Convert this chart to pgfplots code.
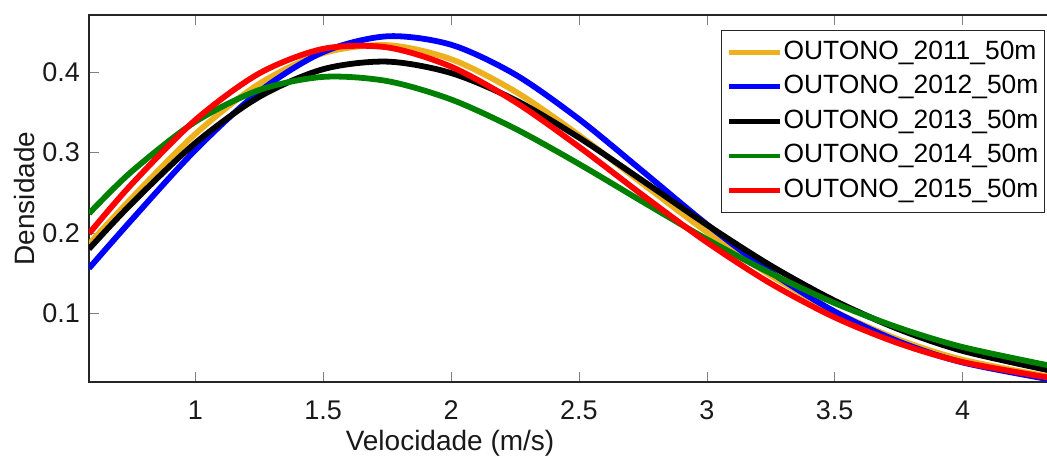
\documentclass[border=0pt]{standalone}
\usepackage{fontspec}
\setmainfont{Liberation Sans}
\usepackage{pgfplots}
\pgfplotsset{compat=1.18}
\definecolor{myyellow}{rgb}{0.929,0.694,0.125}
\definecolor{mygreen}{rgb}{0,0.5,0}
\definecolor{axgray}{rgb}{0.15,0.15,0.15}
\begin{document}
\begin{tikzpicture}
\useasboundingbox (0,0) rectangle (523.5pt,229.5pt);
\begin{axis}[
  at={(44.5pt,38.5pt)}, anchor=south west,
  scale only axis, width=481pt, height=183.5pt,
  xmin=0.584, xmax=4.346, ymin=0.0145, ymax=0.471,
  ytick pos=left,
  axis line style={axgray, line width=0.6pt},
  tickwidth=5pt,
  xtick={1,1.5,2,2.5,3,3.5,4},
  xticklabels={1,1.5,2,2.5,3,3.5,4},
  ytick={0.1,0.2,0.3,0.4},
  yticklabels={0.1,0.2,0.3,0.4},
  ticklabel style={font=\fontsize{13.5}{16}\selectfont, text=black!90},
  xticklabel style={anchor=base, yshift=-19pt},
  yticklabel style={anchor=east, xshift=-1pt},
  xlabel={Velocidade (m/s)},
  ylabel={Densidade},
  label style={font=\fontsize{14}{16}\selectfont, text=black!90},
  xlabel style={at={(axis description cs:0.3753,-0.1853)}, anchor=base, inner sep=0pt},
  ylabel style={at={(axis description cs:-0.0562,0.5)}, anchor=south, inner sep=0pt},
  legend cell align=left,
  legend image code/.code={\draw[#1, line width=2.4pt] (0pt,0pt) -- (25.5pt,0pt);},
  legend style={at={(rel axis cs:1,1)}, anchor=north east, xshift=-3pt, yshift=-7.5pt,
    draw=axgray, line width=0.6pt, inner xsep=2.25pt, inner ysep=4.3pt,
    font=\fontsize{13.2}{15}\selectfont, row sep=4.3pt,
    nodes={inner ysep=0pt, inner xsep=0.75pt, text height=10pt, text depth=3pt}},
]
\addplot[smooth, color=myyellow, line width=2.9pt] coordinates {
(0.584,0.186) (0.75,0.243) (1.0,0.323) (1.25,0.3855) (1.5,0.4235) (1.75,0.4335) (2.0,0.4160) (2.25,0.3760) (2.5,0.3215) (2.75,0.2609) (3.0,0.2011) (3.25,0.1470) (3.5,0.1021) (3.75,0.0674) (4.0,0.0422) (4.35,0.0205)};
\addlegendentry{OUTONO\_2011\_50m}
\addplot[smooth, color=blue, line width=2.9pt] coordinates {
(0.584,0.1559) (0.75,0.2159) (1.0,0.3030) (1.25,0.3758) (1.5,0.4249) (1.75,0.4445) (2.0,0.4340) (2.25,0.3971) (2.5,0.3415) (2.75,0.2764) (3.0,0.2106) (3.25,0.1511) (3.5,0.1021) (3.75,0.0649) (4.0,0.0388) (4.35,0.0172)};
\addlegendentry{OUTONO\_2012\_50m}
\addplot[smooth, color=black, line width=2.9pt] coordinates {
(0.584,0.1800) (0.75,0.2362) (1.0,0.3118) (1.25,0.3692) (1.5,0.4036) (1.75,0.4130) (2.0,0.3988) (2.25,0.3654) (2.5,0.3185) (2.75,0.2647) (3.0,0.2101) (3.25,0.1593) (3.5,0.1156) (3.75,0.0802) (4.0,0.0532) (4.35,0.0282)};
\addlegendentry{OUTONO\_2013\_50m}
\addplot[smooth, color=mygreen, line width=2.9pt] coordinates {
(0.584,0.2240) (0.75,0.2761) (1.0,0.3382) (1.25,0.3777) (1.5,0.3940) (1.75,0.3888) (2.0,0.3659) (2.25,0.3297) (2.5,0.2857) (2.75,0.2385) (3.0,0.1921) (3.25,0.1496) (3.5,0.1126) (3.75,0.0821) (4.0,0.0580) (4.35,0.0343)};
\addlegendentry{OUTONO\_2014\_50m}
\addplot[smooth, color=red, line width=2.9pt] coordinates {
(0.584,0.1991) (0.75,0.2603) (1.0,0.3404) (1.25,0.3984) (1.5,0.4289) (1.75,0.4307) (2.0,0.4067) (2.25,0.3630) (2.5,0.3071) (2.75,0.2467) (3.0,0.1884) (3.25,0.1370) (3.5,0.0949) (3.75,0.0626) (4.0,0.0393) (4.35,0.0193)};
\addlegendentry{OUTONO\_2015\_50m}
\end{axis}
\end{tikzpicture}
\end{document}
